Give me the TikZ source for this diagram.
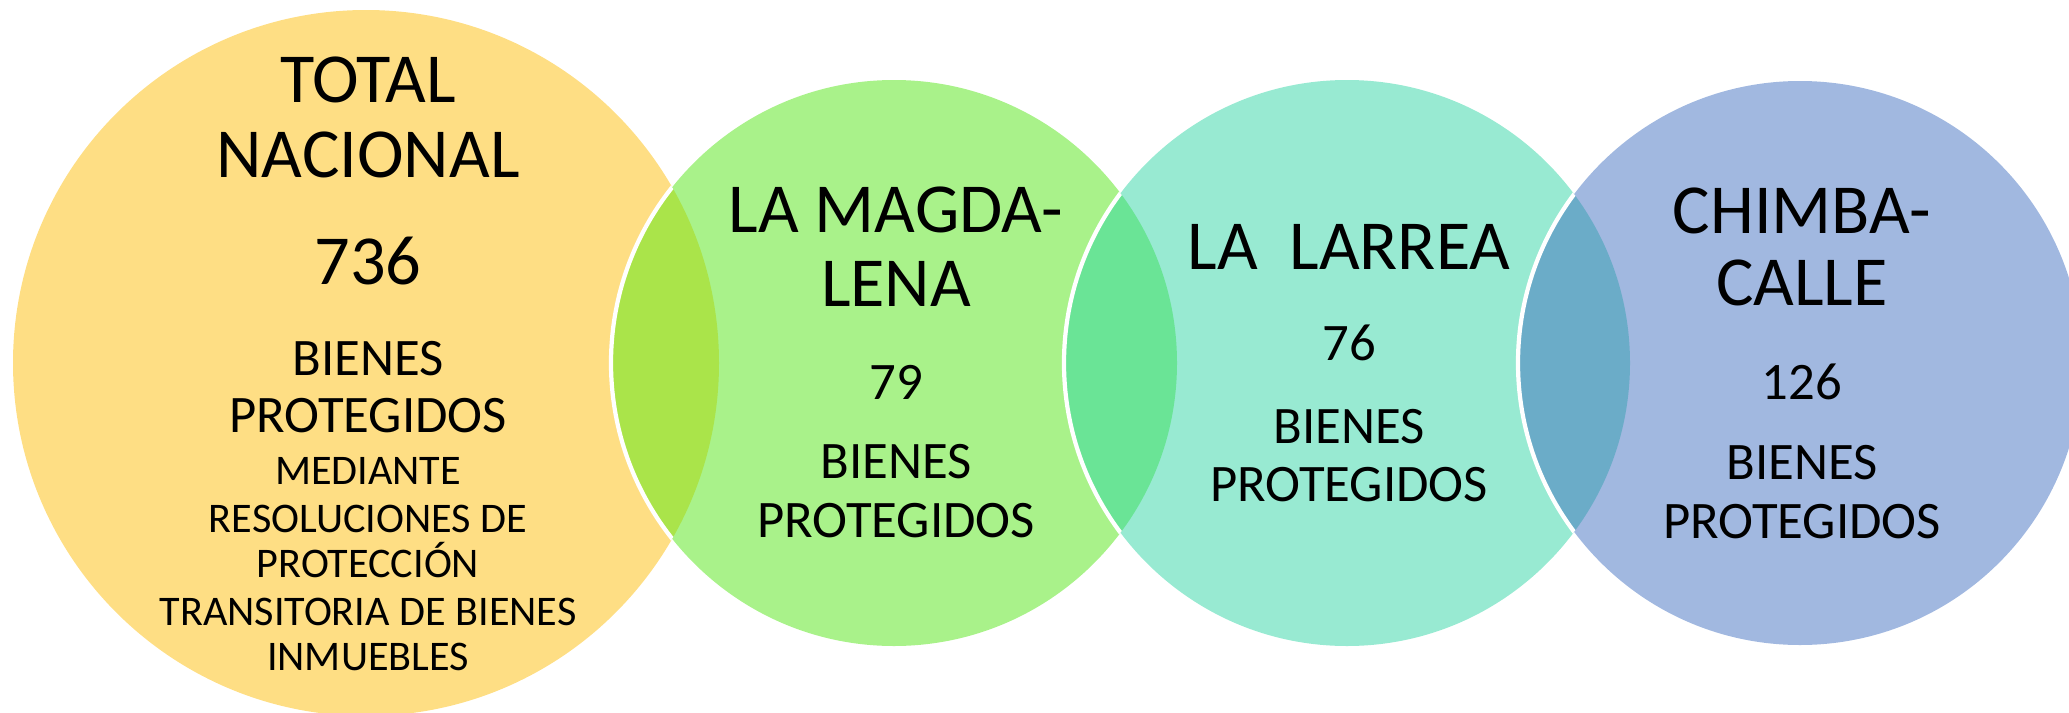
\documentclass[tikz,border=0pt]{standalone}
\usepackage{fontspec}
\setmainfont{Carlito}
\usepackage{xcolor}
\usepackage{tkz-euclide}
\definecolor{amarillo}{HTML}{FEDE84}
\definecolor{verde}{HTML}{A9F28A}
\definecolor{turquesa}{HTML}{98EAD2}
\definecolor{azul}{HTML}{A1B8E0}
\definecolor{verdeam}{HTML}{AAE44A}
\definecolor{verdetq}{HTML}{6AE496}
\definecolor{azultq}{HTML}{6BACC8}
\tikzset{
  titulo/.style={anchor=base, inner sep=0pt, font=\fontsize{20}{22}\selectfont},
  cifra/.style={anchor=base, inner sep=0pt, font=\fontsize{15}{17}\selectfont},
  bienes/.style={anchor=base, inner sep=0pt, font=\fontsize{15}{17}\selectfont},
  menor/.style={anchor=base, inner sep=0pt, font=\fontsize{12}{13}\selectfont},
  borde/.style={draw=white, line width=1.2pt}
}

\begin{document}
\begin{tikzpicture}
    \useasboundingbox (0,0) rectangle (20.69,7.12);
    \tkzDefPoint(3.66,3.49){c_1}
    \tkzDefPoint(8.94,3.49){c_2}
    \tkzDefPoint(13.47,3.49){c_3}
    \tkzDefPoint(18.00,3.49){c_4}
    % circulos
    \fill[amarillo] (c_1) circle (3.53);
    \fill[verde] (c_2) circle (2.83);
    \fill[turquesa] (c_3) circle (2.83);
    \fill[azul] (c_4) circle (2.82);
    % intersecciones
    \begin{scope}
      \clip (c_1) circle (3.53);
      \fill[verdeam] (c_2) circle (2.83);
      \draw[borde] (c_2) circle (2.83);
    \end{scope}
    \begin{scope}
      \clip (c_2) circle (2.83);
      \fill[verdetq] (c_3) circle (2.83);
      \draw[borde] (c_3) circle (2.83);
    \end{scope}
    \begin{scope}
      \clip (c_3) circle (2.83);
      \fill[azultq] (c_4) circle (2.82);
      \draw[borde] (c_4) circle (2.82);
    \end{scope}
    % total nacional
    \node[titulo] (t_1) at (3.68,6.10) {TOTAL};
    \node[titulo] (t_2) at (3.68,5.35) {NACIONAL};
    \node[titulo] (n_1) at (3.68,4.28) {736};
    \node[bienes] (b_1) at (3.68,3.37) {BIENES};
    \node[bienes] (p_1) at (3.68,2.80) {PROTEGIDOS};
    \node[menor] (m_1) at (3.68,2.28) {MEDIANTE};
    \node[menor] (m_2) at (3.68,1.80) {RESOLUCIONES DE};
    \node[menor] (m_3) at (3.68,1.35) {PROTECCIÓN};
    \node[menor] (m_4) at (3.68,0.87) {TRANSITORIA DE BIENES};
    \node[menor] (m_5) at (3.68,0.42) {INMUEBLES};
    % la magdalena
    \node[titulo] (t_3) at (8.96,4.80) {LA MAGDA-};
    \node[titulo] (t_4) at (8.96,4.06) {LENA};
    \node[cifra] (n_2) at (8.96,3.13) {79};
    \node[bienes] (b_2) at (8.96,2.34) {BIENES};
    \node[bienes] (p_2) at (8.96,1.75) {PROTEGIDOS};
    % la larrea
    \node[titulo] (t_5) at (13.49,4.43) {LA\ \ LARREA};
    \node[cifra] (n_3) at (13.49,3.52) {76};
    \node[bienes] (b_3) at (13.49,2.69) {BIENES};
    \node[bienes] (p_3) at (13.49,2.11) {PROTEGIDOS};
    % chimbacalle
    \node[titulo] (t_6) at (18.02,4.79) {CHIMBA-};
    \node[titulo] (t_7) at (18.02,4.07) {CALLE};
    \node[cifra] (n_4) at (18.02,3.13) {126};
    \node[bienes] (b_4) at (18.02,2.33) {BIENES};
    \node[bienes] (p_4) at (18.02,1.74) {PROTEGIDOS};
\end{tikzpicture}
\end{document}
